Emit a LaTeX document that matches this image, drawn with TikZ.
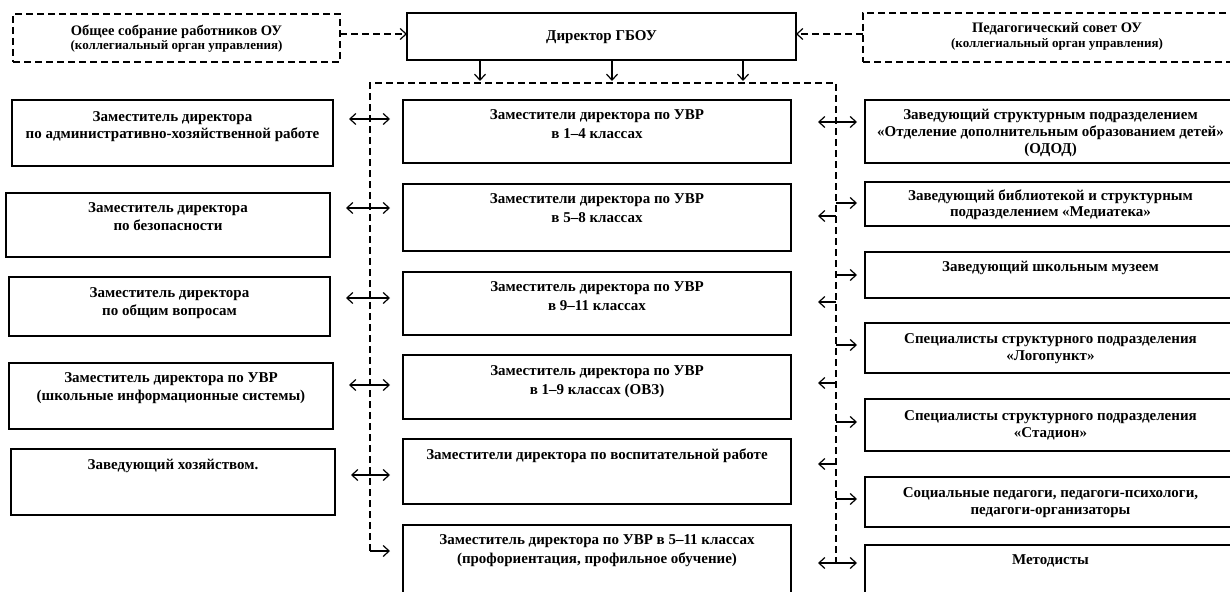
\documentclass[tikz,border=0pt]{standalone}
\usepackage{fontspec}
\setmainfont{Liberation Serif}
\usetikzlibrary{arrows.meta,calc}
\newcommand{\boxtxt}[5]{\begin{minipage}[c][#2pt][t]{#1pt}\centering\fontsize{15pt}{#4pt}\selectfont\bfseries\rule{0pt}{#3pt}#5\end{minipage}}
\newcommand{\smalltxt}{\fontsize{13pt}{14pt}\selectfont}
\newcommand{\toptxt}{\fontsize{14.5pt}{14pt}\selectfont}
\tikzset{
  box/.style={draw, line width=1.5pt, inner sep=0pt, outer sep=0pt, anchor=north west},
  dbox/.style={box, dash pattern=on 7pt off 4pt},
  dashline/.style={line width=1.4pt, dash pattern=on 7pt off 4pt},
  arr/.style={-{Straight Barb[length=6pt,width=11pt,line width=1.2pt]}, line width=1.2pt},
}
\begin{document}
\begin{tikzpicture}[x=1pt,y=-1pt]
\useasboundingbox (0,0) rectangle (1230,591);
% top row
\node[dbox] (gen) at (13,14) {\boxtxt{327}{48}{22}{14}{{\toptxt Общее собрание работников ОУ}\\{\smalltxt (коллегиальный орган управления)}}};
\node[box] (dir) at (407,13) {\boxtxt{389}{47}{28}{17}{Директор ГБОУ}};
\node[dbox] (ped) at (863,13) {\boxtxt{388}{49}{20}{15}{{\toptxt Педагогический совет ОУ}\\{\smalltxt (коллегиальный орган управления)}}};
% left column
\node[box] (l1) at (12,100) {\boxtxt{321}{66}{21}{17}{Заместитель директора\\по административно-хозяйственной работе}};
\node[box] (l2) at (6,193) {\boxtxt{324}{64}{19}{18}{Заместитель директора\\по безопасности}};
\node[box] (l3) at (9,277) {\boxtxt{321}{59}{20}{18}{Заместитель директора\\по общим вопросам}};
\node[box] (l4) at (9,363) {\boxtxt{324}{66}{19}{18}{Заместитель директора по УВР\\(школьные информационные системы)}};
\node[box] (l5) at (11,449) {\boxtxt{324}{66}{20}{17}{Заведующий хозяйством.}};
% centre column
\node[box] (c1) at (403,100) {\boxtxt{388}{63}{20}{19}{Заместители директора по УВР\\в 1–4 классах}};
\node[box] (c2) at (403,184) {\boxtxt{388}{67}{19}{19}{Заместители директора по УВР\\в 5–8 классах}};
\node[box] (c3) at (403,272) {\boxtxt{388}{63}{19}{19}{Заместитель директора по УВР\\в 9–11 классах}};
\node[box] (c4) at (403,355) {\boxtxt{388}{64}{20}{19}{Заместитель директора по УВР\\в 1–9 классах (ОВЗ)}};
\node[box] (c5) at (403,439) {\boxtxt{388}{65}{20}{19}{Заместители директора по воспитательной работе}};
\node[box] (c6) at (403,525) {\boxtxt{388}{90}{19}{19}{Заместитель директора по УВР в 5–11 классах\\(профориентация, профильное обучение)}};
% right column
\node[box] (r1) at (865,100) {\boxtxt{371}{63}{19}{17}{Заведующий структурным подразделением\\«Отделение дополнительным образованием детей»\\(ОДОД)}};
\node[box] (r2) at (865,182) {\boxtxt{371}{44}{18}{16}{Заведующий библиотекой и структурным\\подразделением «Медиатека»}};
\node[box] (r3) at (865,252) {\boxtxt{371}{46}{19}{17}{Заведующий школьным музеем}};
\node[box] (r4) at (865,323) {\boxtxt{371}{50}{20}{17}{Специалисты структурного подразделения\\«Логопункт»}};
\node[box] (r5) at (865,399) {\boxtxt{371}{52}{21}{17}{Специалисты структурного подразделения\\«Стадион»}};
\node[box] (r6) at (865,477) {\boxtxt{371}{50}{20}{17}{Социальные педагоги, педагоги-психологи,\\педагоги-организаторы}};
\node[box] (r7) at (865,545) {\boxtxt{371}{80}{19}{17}{Методисты}};
% top connectors
\coordinate (ya) at (0,34);
\draw[dashline,arr] (gen.east |- ya) -- (dir.west |- ya);
\draw[dashline,arr] (ped.west |- ya) -- (dir.east |- ya);
% bus
\coordinate (btl) at (370,83);
\coordinate (btr) at (836,83);
\coordinate (bbl) at (370,551);
\coordinate (bbr) at (836,565);
\draw[dashline] (bbl) -- (btl) -- (btr) -- (bbr);
\coordinate (d1) at (480,81);
\coordinate (d2) at (612,81);
\coordinate (d3) at (743,81);
\foreach \d in {d1,d2,d3} \draw[arr] (dir.south -| \d) -- (\d);
% left bus arrows
\foreach \l/\c/\yy in {l1/c1/119, l2/c2/208, l3/c3/298, l4/c4/385, l5/c5/475}{
  \coordinate (p) at (370,\yy);
  \draw[arr, shorten >=16pt] (p) -- (\l.east |- p);
  \draw[arr, shorten >=13pt] (p) -- (c1.west |- p);
}
\coordinate (p6) at (370,551);
\draw[arr, shorten >=13pt] (p6) -- (c6.west |- p6);
% right bus arrows: to right column
\foreach \r/\yy in {r1/122, r2/203, r3/275, r4/345, r5/422, r6/499, r7/563}{
  \coordinate (q) at (836,\yy);
  \draw[arr, shorten >=8pt] (q) -- (\r.west |- q);
}
% right bus arrows: to centre column
\foreach \c/\yy in {c1/122, c2/216, c3/302, c4/383, c5/464, c6/563}{
  \coordinate (s) at (836,\yy);
  \draw[arr, shorten >=27pt] (s) -- (\c.east |- s);
}
\end{tikzpicture}
\end{document}
